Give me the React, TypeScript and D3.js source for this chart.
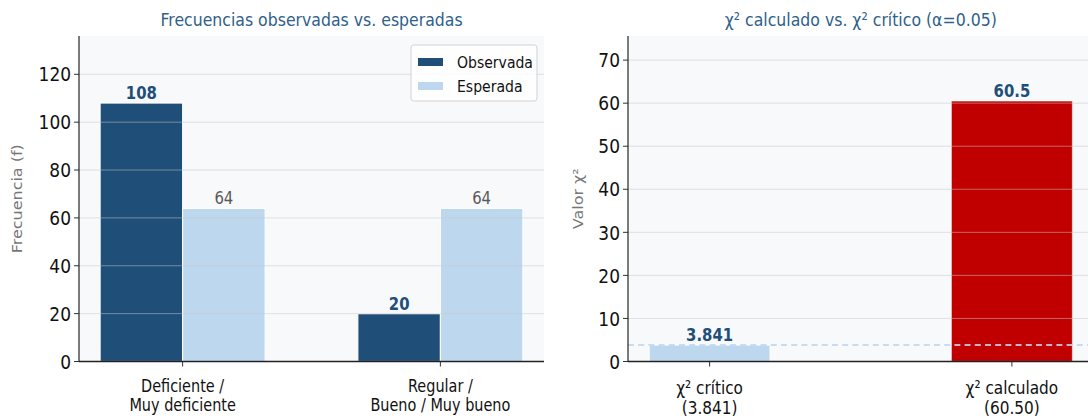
import React from 'react';
import * as d3 from 'd3';

// datos
const categories = ['Deficiente /\nMuy deficiente', 'Regular /\nBueno / Muy bueno'];
const observed = [108, 20];
const expected = [64, 64];
const leftTicks = [0, 20, 40, 60, 80, 100, 120];

const chiLabels = ['χ² crítico\n(3.841)', 'χ² calculado\n(60.50)'];
const chiValues = [3.841, 60.5];
const chiText = ['3.841', '60.5'];
const rightTicks = [0, 10, 20, 30, 40, 50, 60, 70];
const chiCritical = 3.841;

// the picture is squeezed horizontally, so draw in a wider box
const W = 1280;
const H = 419;
const SX = 1088 / W;
const px = (v: number) => v / SX;

const FONT = '"DejaVu Sans", sans-serif';
const DARK = '#1f4e79';
const LIGHT = '#bdd7ee';
const RED = '#c00000';
const BG = '#f8f9fb';

const top = 36;
const bottom = 361.5;

function App() {
  const barW = 0.32;
  const xL = d3.scaleLinear().domain([-0.402, 1.402]).range([px(79), px(544)]);
  const yL = d3.scaleLinear().domain([0, 136]).range([bottom, top]);

  const chiW = 0.4;
  const xR = d3.scaleLinear().domain([-0.27, 1.27]).range([px(628), px(1093.5)]);
  const yR = d3.scaleLinear().domain([0, 75.6]).range([bottom, top]);

  const yAxis = (x0: number, y: d3.ScaleLinear<number, number>, ticks: number[]) => (
    <g>
      {ticks.map(t => (
        <g key={t}>
          <line x1={x0} x2={x0 - px(5)} y1={y(t)} y2={y(t)} stroke="#222" strokeWidth={1} />
          <text x={x0 - px(8)} y={y(t)} dy="0.36em" textAnchor="end" fontSize={20} fill="#111">{t}</text>
        </g>
      ))}
    </g>
  );

  const grid = (x0: number, x1: number, y: d3.ScaleLinear<number, number>, ticks: number[]) =>
    ticks.filter(t => t > 0).map(t => (
      <line key={t} x1={x0} x2={x1} y1={y(t)} y2={y(t)} stroke="#c8c8c8" strokeOpacity={0.55} strokeWidth={1} />
    ));

  const multiline = (label: string, x: number, y0: number, fs: number, gap: number) => (
    <g>
      {label.split('\n').map((l, i) => (
        <text key={i} x={x} y={y0 + i * gap} textAnchor="middle" fontSize={fs} fill="#111">{l}</text>
      ))}
    </g>
  );

  const [l0, l1] = xL.range();
  const [r0, r1] = xR.range();

  return (
    <svg width={1088} height={H} viewBox={`0 0 ${W} ${H}`} preserveAspectRatio="none"
      style={{ position: 'absolute', left: 0, top: 0 }} fontFamily={FONT}>
      <rect x={0} y={0} width={W} height={H} fill="#fff" />

      {/* ---- izquierda ---- */}
      <rect x={l0} y={top} width={l1 - l0} height={bottom - top} fill={BG} />
      {categories.map((c, i) => (
        <g key={c}>
          <rect x={xL(i - barW)} y={yL(observed[i])} width={xL(barW) - xL(0)} height={yL(0) - yL(observed[i])}
            fill={DARK} stroke="#fff" strokeWidth={1.2} />
          <rect x={xL(i)} y={yL(expected[i])} width={xL(barW) - xL(0)} height={yL(0) - yL(expected[i])}
            fill={LIGHT} stroke="#fff" strokeWidth={1.2} />
        </g>
      ))}
      {grid(l0, l1, yL, leftTicks)}
      {categories.map((c, i) => (
        <g key={'t' + i}>
          <text x={xL(i - barW / 2)} y={yL(observed[i]) - 4} textAnchor="middle" fontSize={17.5}
            fontWeight="bold" fill={DARK}>{observed[i]}</text>
          <text x={xL(i + barW / 2)} y={yL(expected[i]) - 4} textAnchor="middle" fontSize={17.5}
            fill="#595959">{expected[i]}</text>
          <line x1={xL(i)} x2={xL(i)} y1={bottom} y2={bottom + 5} stroke="#222" />
          {multiline(c, xL(i), 392, 17, 19.5)}
        </g>
      ))}
      <line x1={l0} x2={l0} y1={top} y2={bottom} stroke="#222" strokeWidth={1.4} />
      <line x1={l0} x2={l1} y1={bottom} y2={bottom} stroke="#222" strokeWidth={1.4} />
      {yAxis(l0, yL, leftTicks)}
      <text transform={`translate(${px(17)},${(top + bottom) / 2}) rotate(-90)`} textAnchor="middle"
        dy="0.35em" fontSize={16} fill="#777">Frecuencia (f)</text>
      <text x={(l0 + l1) / 2} y={26} textAnchor="middle" fontSize={18.5} fill="#2f5f8a">
        Frecuencias observadas vs. esperadas
      </text>

      {/* leyenda */}
      <g>
        <rect x={px(411)} y={45} width={px(537) - px(411)} height={56} rx={3} fill="#fff" fillOpacity={0.85}
          stroke="#cfcfcf" />
        <rect x={px(418)} y={58} width={px(443) - px(418)} height={8} fill={DARK} />
        <text x={px(457)} y={68} fontSize={16.5} fill="#111">Observada</text>
        <rect x={px(418)} y={82} width={px(443) - px(418)} height={8} fill={LIGHT} />
        <text x={px(457)} y={92} fontSize={16.5} fill="#111">Esperada</text>
      </g>

      {/* ---- derecha ---- */}
      <rect x={r0} y={top} width={r1 - r0} height={bottom - top} fill={BG} />
      {chiValues.map((v, i) => (
        <rect key={i} x={xR(i - chiW / 2)} y={yR(v)} width={xR(chiW) - xR(0)} height={yR(0) - yR(v)}
          fill={i === 0 ? LIGHT : RED} stroke="#fff" strokeOpacity={i === 0 ? 1 : 0.5} strokeWidth={1.2} />
      ))}
      {grid(r0, r1, yR, rightTicks)}
      <line x1={r0} x2={r1} y1={yR(chiCritical)} y2={yR(chiCritical)} stroke={LIGHT} strokeOpacity={0.85}
        strokeWidth={2} strokeDasharray="7,5" />
      {chiValues.map((v, i) => (
        <g key={'c' + i}>
          <text x={xR(i)} y={yR(v) - 4} textAnchor="middle" fontSize={17.5} fontWeight="bold" fill={DARK}>
            {chiText[i]}
          </text>
          <line x1={xR(i)} x2={xR(i)} y1={bottom} y2={bottom + 5} stroke="#222" />
          {multiline(chiLabels[i], xR(i), 394, 18, 20.5)}
        </g>
      ))}
      <line x1={r0} x2={r0} y1={top} y2={bottom} stroke="#222" strokeWidth={1.4} />
      <line x1={r0} x2={r1} y1={bottom} y2={bottom} stroke="#222" strokeWidth={1.4} />
      {yAxis(r0, yR, rightTicks)}
      <text transform={`translate(${px(578)},${(top + bottom) / 2}) rotate(-90)`} textAnchor="middle"
        dy="0.35em" fontSize={16} fill="#777">Valor χ²</text>
      <text x={(r0 + r1) / 2} y={26} textAnchor="middle" fontSize={18.5} fill="#2f5f8a">
        χ² calculado vs. χ² crítico (α=0.05)
      </text>
    </svg>
  );
}

export default App;
